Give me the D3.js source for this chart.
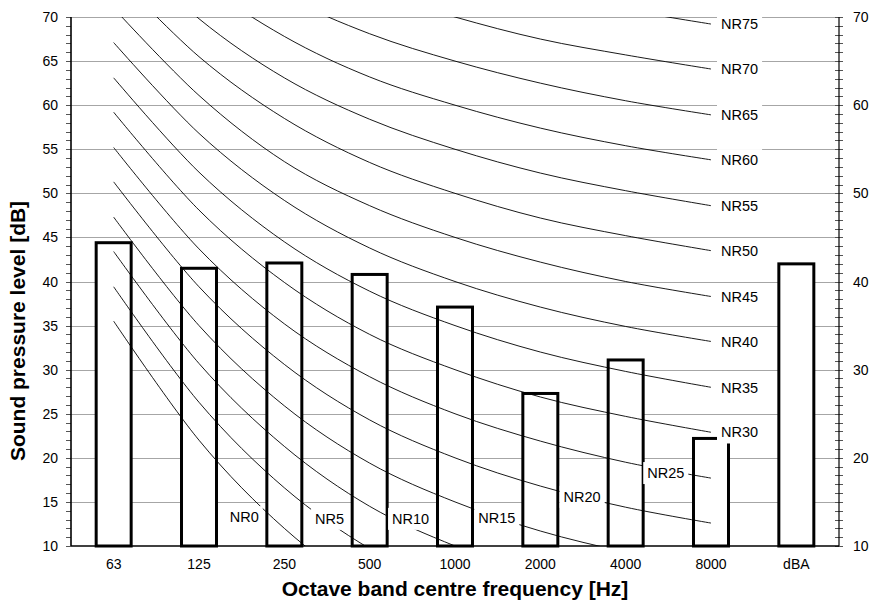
<!DOCTYPE html>
<html>
<head>
<meta charset="utf-8">
<script src="https://cdn.jsdelivr.net/npm/d3@7"></script>
<style>
  body { margin: 0; background: #fff; }
  svg text { font-family: "Liberation Sans", Arial, sans-serif; fill: #000; }
</style>
</head>
<body>
<svg id="chart" width="872" height="603"></svg>
<script>
// octave bands + overall A-weighted level
var bands = ["63", "125", "250", "500", "1000", "2000", "4000", "8000", "dBA"];
var measured = [44.4, 41.5, 42.1, 40.8, 37.1, 27.3, 31.1, 22.2, 42.0];

// NR rating curves, 63 Hz .. 8 kHz
var nrLevels = [0, 5, 10, 15, 20, 25, 30, 35, 40, 45, 50, 55, 60, 65, 70, 75];
var nrCurves = [
  [35.5, 22.0, 12.0, 4.8, 0.0, -3.5, -6.1, -8.0],
  [39.4, 26.3, 16.6, 9.7, 5.0, 1.6, -1.0, -2.8],
  [43.4, 30.7, 21.3, 14.5, 10.0, 6.6, 4.2, 2.3],
  [47.3, 35.0, 25.9, 19.4, 15.0, 11.7, 9.3, 7.4],
  [51.3, 39.4, 30.6, 24.3, 20.0, 16.8, 14.4, 12.6],
  [55.2, 43.7, 35.2, 29.2, 25.0, 21.9, 19.5, 17.7],
  [59.2, 48.1, 39.9, 34.0, 30.0, 26.9, 24.7, 22.9],
  [63.1, 52.4, 44.5, 38.9, 35.0, 32.0, 29.8, 28.0],
  [67.1, 56.8, 49.2, 43.8, 40.0, 37.1, 34.9, 33.2],
  [71.0, 61.1, 53.6, 48.6, 45.0, 42.2, 40.0, 38.3],
  [75.0, 65.5, 58.5, 53.5, 50.0, 47.2, 45.2, 43.5],
  [78.9, 69.8, 63.1, 58.4, 55.0, 52.3, 50.3, 48.6],
  [82.9, 74.2, 67.8, 63.2, 60.0, 57.4, 55.4, 53.8],
  [86.8, 78.5, 72.4, 68.1, 65.0, 62.5, 60.5, 58.9],
  [90.8, 82.9, 77.1, 73.0, 70.0, 67.5, 65.7, 64.1],
  [94.7, 87.2, 81.7, 77.9, 75.0, 72.6, 70.8, 69.2]
];
// where the low curves get their label: [band index, dB]
var lowLabelSpots = [[1.53, 13.3], [2.53, 13.1], [3.48, 13.1], [4.49, 13.2], [5.49, 15.6], [6.47, 18.3]];

var leftTicks = d3.range(10, 71, 5);
var rightTicks = d3.range(10, 71, 10);
var minorTicks = d3.range(10, 71, 1);

var margin = {top: 17, right: 33, bottom: 57, left: 71};
var width = 872 - margin.left - margin.right,
    height = 603 - margin.top - margin.bottom;

var svg = d3.select("#chart");
var g = svg.append("g").attr("transform", "translate(" + margin.left + "," + margin.top + ")");

var x = d3.scaleBand().domain(bands).range([0, width]).paddingInner(0.59).paddingOuter(0.295);
var y = d3.scaleLinear().domain([10, 70]).range([height, 0]);
// band index -> centre position, for the curves
var xi = d3.scaleLinear().domain([0, 1]).range([x(bands[0]) + x.bandwidth() / 2, x(bands[1]) + x.bandwidth() / 2]);

svg.append("defs").append("clipPath").attr("id", "plotclip")
  .append("rect").attr("width", width).attr("height", height);

// gridlines
g.append("g").selectAll("line")
  .data(leftTicks.filter(function(d) { return d > 10; }))
  .enter().append("line")
  .attr("x1", 0).attr("x2", width)
  .attr("y1", function(d) { return Math.round(y(d)) + 0.5; })
  .attr("y2", function(d) { return Math.round(y(d)) + 0.5; })
  .attr("stroke", "#a6a6a6").attr("stroke-width", 1);

// bars
g.append("g").selectAll("rect")
  .data(measured)
  .enter().append("rect")
  .attr("x", function(d, i) { return x(bands[i]); })
  .attr("width", x.bandwidth())
  .attr("y", function(d) { return y(d); })
  .attr("height", function(d) { return height - y(d); })
  .attr("fill", "#fff").attr("stroke", "#000").attr("stroke-width", 3);

// NR curves
var line = d3.line()
  .x(function(d, i) { return xi(i); })
  .y(function(d) { return y(d); })
  .curve(d3.curveCardinal.tension(0));

g.append("g").attr("clip-path", "url(#plotclip)")
  .selectAll("path")
  .data(nrCurves)
  .enter().append("path")
  .attr("d", line)
  .attr("fill", "none").attr("stroke", "#000").attr("stroke-width", 0.9);

// axes
var yl = g.append("g").attr("class", "axis");
yl.selectAll("line.tick").data(minorTicks).enter().append("line")
  .attr("x1", -5).attr("x2", 0)
  .attr("y1", function(d) { return Math.round(y(d)) + 0.5; })
  .attr("y2", function(d) { return Math.round(y(d)) + 0.5; })
  .attr("stroke", "#555");
yl.selectAll("text").data(leftTicks).enter().append("text")
  .attr("x", -13).attr("y", function(d) { return y(d); })
  .attr("dy", "0.36em").attr("text-anchor", "end")
  .style("font-size", "14px").text(function(d) { return d; });
yl.append("line").attr("x1", 0).attr("x2", 0).attr("y1", 0).attr("y2", height)
  .attr("stroke", "#000").attr("stroke-width", 1.6);

var yr = g.append("g").attr("transform", "translate(" + width + ",0)");
yr.selectAll("line.tick").data(minorTicks).enter().append("line")
  .attr("x1", -4).attr("x2", 4)
  .attr("y1", function(d) { return Math.round(y(d)) + 0.5; })
  .attr("y2", function(d) { return Math.round(y(d)) + 0.5; })
  .attr("stroke", "#555");
yr.selectAll("text").data(rightTicks).enter().append("text")
  .attr("x", 14).attr("y", function(d) { return y(d); })
  .attr("dy", "0.36em")
  .style("font-size", "14px").text(function(d) { return d; });
yr.append("line").attr("y1", 0).attr("y2", height)
  .attr("stroke", "#000").attr("stroke-width", 1.2);

g.append("line").attr("x1", 0).attr("x2", width).attr("y1", height).attr("y2", height)
  .attr("stroke", "#000").attr("stroke-width", 1.6);
g.append("g").selectAll("text").data(bands).enter().append("text")
  .attr("x", function(d) { return x(d) + x.bandwidth() / 2; })
  .attr("y", height + 23)
  .attr("text-anchor", "middle")
  .style("font-size", "14px").text(function(d) { return d; });

// NR labels with white boxes
var labels = g.append("g");
nrLevels.forEach(function(nr, k) {
  var lx, ly, anchor;
  if (k < lowLabelSpots.length) {
    lx = xi(lowLabelSpots[k][0]); ly = y(lowLabelSpots[k][1]); anchor = "middle";
  } else {
    lx = xi(7) + 10; ly = y(nrCurves[k][7]); anchor = "start";
  }
  var lg = labels.append("g");
  var box = lg.append("rect").attr("fill", "#fff");
  var t = lg.append("text").attr("x", lx).attr("y", ly).attr("dy", "0.36em")
    .attr("text-anchor", anchor).style("font-size", "14.5px").text("NR" + nr);
  var bb = t.node().getBBox();
  box.attr("x", bb.x - 4).attr("y", bb.y - 3).attr("width", bb.width + 8).attr("height", bb.height + 6);
});

// axis titles
svg.append("text")
  .attr("x", margin.left + width / 2).attr("y", 596)
  .attr("text-anchor", "middle")
  .style("font-size", "21px").style("font-weight", "bold")
  .text("Octave band centre frequency [Hz]");
svg.append("text")
  .attr("transform", "translate(25,331) rotate(-90)")
  .attr("text-anchor", "middle")
  .style("font-size", "21px").style("font-weight", "bold")
  .text("Sound pressure level [dB]");
</script>
</body>
</html>
